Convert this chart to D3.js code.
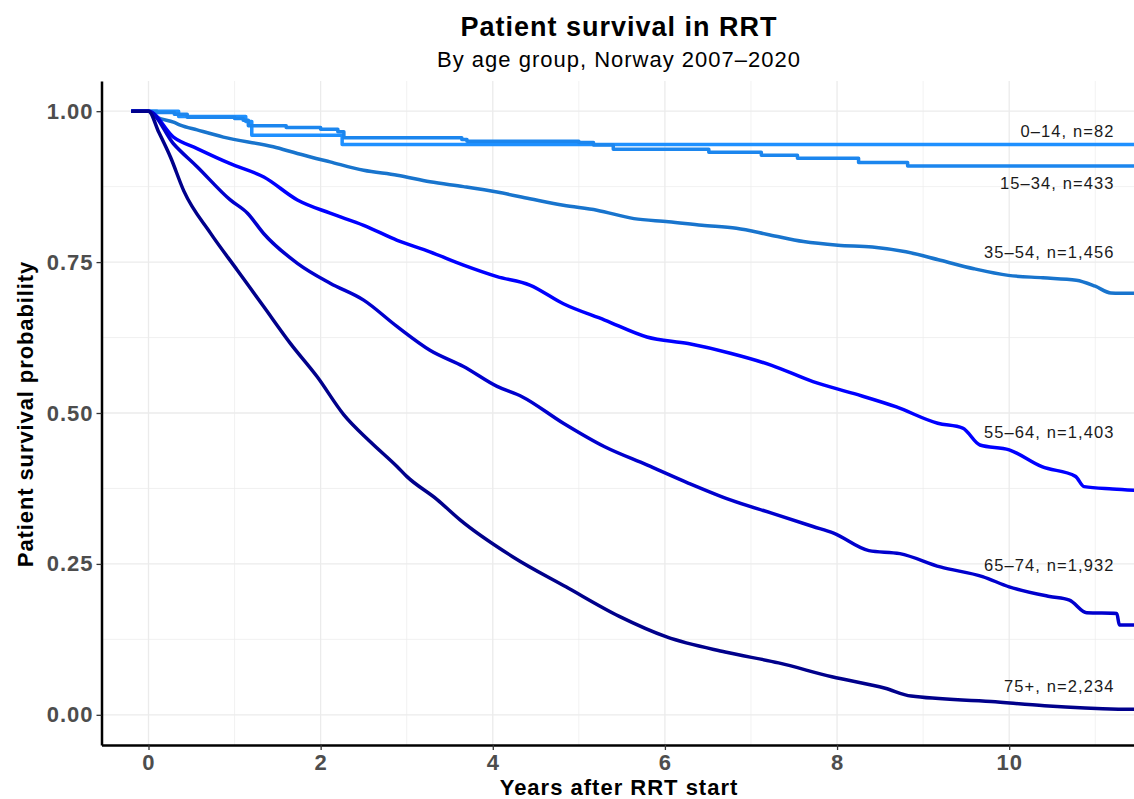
<!DOCTYPE html>
<html>
<head>
<meta charset="utf-8">
<script src="https://cdn.jsdelivr.net/npm/d3@7"></script>
<style>
  body { margin: 0; background: #fff; }
  svg text { font-family: "Liberation Sans", Arial, Helvetica, sans-serif; }
</style>
</head>
<body>
<div id="chart"></div>
<script>
// survival curves, [years, probability]
const groups = ["0\u201314", "15\u201334", "35\u201354", "55\u201364", "65\u201374", "75+"];
const counts = ["82", "433", "1,456", "1,403", "1,932", "2,234"];
const colors = ["#1E90FF", "#1C86EE", "#1874CD", "#0000FF", "#0000CD", "#00008B"];
const stepped = [true, true, false, false, false, false];
// where the group label sits (probability units)
const labelAt = [0.967, 0.880, 0.767, 0.468, 0.248, 0.048];

const surv0014 = [[-0.2,1],[0.35,0.991],[1.13,0.983],[1.2,0.96],[2.25,0.945],[11.6,0.945]];
const surv1534 = [[-0.2,1],[0.1,0.998],[0.3,0.995],[0.45,0.99],[1.0,0.988],[1.1,0.985],[1.16,0.976],
  [1.6,0.973],[2.0,0.970],[2.2,0.966],[2.27,0.956],[3.64,0.953],[3.7,0.950],[5.0,0.948],[5.17,0.944],
  [5.4,0.937],[6.51,0.932],[7.12,0.927],[7.54,0.922],[8.25,0.915],[8.82,0.909],[11.6,0.909]];
const surv3554 = [[-0.2,1],[0,1],[0.1,0.99],[0.29,0.982],[0.37,0.977],[0.565,0.969],[0.87,0.957],[1.45,0.941],
  [1.73,0.93],[2.11,0.916],[2.5,0.902],[2.89,0.894],[3.27,0.883],[3.66,0.875],[4.05,0.866],[4.43,0.855],
  [4.82,0.844],[5.21,0.836],[5.64,0.822],[6.04,0.817],[6.43,0.811],[6.83,0.806],[7.22,0.795],[7.61,0.784],
  [8.01,0.778],[8.41,0.775],[8.8,0.767],[9.2,0.753],[9.59,0.739],[9.99,0.728],[10.39,0.724],[10.78,0.72],
  [11.0,0.71],[11.18,0.699],[11.6,0.698]];
const surv5564 = [[-0.2,1],[0,1],[0.29,0.957],[0.565,0.938],[0.95,0.913],[1.34,0.891],[1.73,0.853],
  [2.11,0.831],[2.5,0.811],[2.89,0.786],[3.27,0.767],[3.66,0.745],[4.05,0.726],[4.43,0.712],[4.82,0.681],
  [5.3,0.654],[5.79,0.626],[6.27,0.615],[6.76,0.599],[7.24,0.579],[7.72,0.552],[8.2,0.532],[8.69,0.51],
  [9.17,0.483],[9.46,0.475],[9.66,0.447],[10.0,0.439],[10.38,0.411],[10.77,0.395],[10.87,0.378],
  [11.2,0.374],[11.6,0.371]];
const surv6574 = [[-0.2,1],[0,1],[0.29,0.946],[0.565,0.908],[0.95,0.853],[1.15,0.831],[1.34,0.797],
  [1.73,0.748],[2.11,0.715],[2.5,0.687],[2.89,0.643],[3.27,0.604],[3.66,0.577],[4.05,0.544],[4.34,0.527],
  [4.82,0.483],[5.3,0.444],[5.79,0.414],[6.27,0.384],[6.76,0.356],[7.24,0.334],[7.72,0.312],[7.96,0.301],
  [8.37,0.272],[8.73,0.267],[9.2,0.245],[9.69,0.229],[10.0,0.212],[10.47,0.196],[10.7,0.19],[10.9,0.169],
  [11.25,0.168],[11.28,0.149],[11.6,0.149]];
const surv75 = [[-0.2,1],[0,1],[0.12,0.965],[0.255,0.924],[0.41,0.868],[0.72,0.798],[1.03,0.737],[1.34,0.676],
  [1.65,0.615],[1.96,0.56],[2.27,0.497],[2.58,0.452],[2.89,0.411],[3.0,0.395],[3.35,0.357],[3.62,0.323],
  [4.23,0.262],[4.85,0.212],[5.47,0.163],[6.02,0.129],[6.70,0.104],[7.32,0.086],[7.94,0.063],[8.56,0.044],
  [8.86,0.031],[9.79,0.022],[10.41,0.015],[11.27,0.0094],[11.6,0.009]];
const curves = [surv0014, surv1534, surv3554, surv5564, surv6574, surv75];

const xTicks = [0, 2, 4, 6, 8, 10];
const yTicks = [0, 0.25, 0.5, 0.75, 1];

const width = 1134, height = 799;
const mLeft = 101.5, mRight = 1134, mTop = 81, mBottom = 745;

const svg = d3.select("#chart").append("svg").attr("width", width).attr("height", height);

const x = d3.scaleLinear().domain([-0.546, 11.45]).range([mLeft, mRight]);
const y = d3.scaleLinear().domain([-0.05, 1.05]).range([mBottom, mTop]);

svg.append("defs").append("clipPath").attr("id", "panel")
  .append("rect").attr("x", mLeft).attr("y", mTop).attr("width", mRight - mLeft).attr("height", mBottom - mTop);

// grid
const grid = svg.append("g");
const minorX = d3.range(1, 12, 2), minorY = [0.125, 0.375, 0.625, 0.875];
grid.selectAll(".mx").data(minorX).enter().append("line")
  .attr("x1", d => x(d)).attr("x2", d => x(d)).attr("y1", mTop).attr("y2", mBottom)
  .attr("stroke", "#EBEBEB").attr("stroke-width", 0.7);
grid.selectAll(".my").data(minorY).enter().append("line")
  .attr("x1", mLeft).attr("x2", mRight).attr("y1", d => y(d)).attr("y2", d => y(d))
  .attr("stroke", "#EBEBEB").attr("stroke-width", 0.7);
grid.selectAll(".gx").data(xTicks).enter().append("line")
  .attr("x1", d => x(d)).attr("x2", d => x(d)).attr("y1", mTop).attr("y2", mBottom)
  .attr("stroke", "#EBEBEB").attr("stroke-width", 1.3);
grid.selectAll(".gy").data(yTicks).enter().append("line")
  .attr("x1", mLeft).attr("x2", mRight).attr("y1", d => y(d)).attr("y2", d => y(d))
  .attr("stroke", "#EBEBEB").attr("stroke-width", 1.3);

// curves
const plot = svg.append("g").attr("clip-path", "url(#panel)");
curves.forEach((pts, i) => {
  const line = d3.line().x(d => x(d[0])).y(d => y(d[1]))
    .curve(stepped[i] ? d3.curveStepAfter : d3.curveMonotoneX);
  plot.append("path").datum(pts)
    .attr("d", line)
    .attr("fill", "none")
    .attr("stroke", colors[i])
    .attr("stroke-width", 3.5)
    .attr("stroke-linejoin", "round");
});

// group labels
svg.append("g").selectAll("text").data(groups).enter().append("text")
  .attr("x", mRight - 19.5)
  .attr("y", (d, i) => y(labelAt[i]))
  .attr("dy", "0.35em")
  .attr("text-anchor", "end")
  .attr("font-size", 16.5)
  .attr("letter-spacing", 1.1)
  .attr("fill", "#1a1a1a")
  .text((d, i) => d + ", n=" + counts[i]);

// axes
const xAxis = svg.append("g").attr("transform", `translate(0,${mBottom})`)
  .call(d3.axisBottom(x).tickValues(xTicks).tickSize(5).tickPadding(4).tickSizeOuter(0));
const yAxis = svg.append("g").attr("transform", `translate(${mLeft},0)`)
  .call(d3.axisLeft(y).tickValues(yTicks).tickFormat(d3.format(".2f")).tickSize(5).tickPadding(3).tickSizeOuter(0));

[xAxis, yAxis].forEach(a => {
  a.select(".domain").attr("stroke", "#000").attr("stroke-width", 2.5);
  a.selectAll(".tick line").attr("stroke", "#333").attr("stroke-width", 1.3);
  a.selectAll(".tick text")
    .attr("font-family", "Liberation Sans, Arial, sans-serif")
    .attr("font-size", 22).attr("font-weight", "bold")
    .attr("letter-spacing", 1).attr("fill", "#4D4D4D");
});
xAxis.selectAll(".tick text").attr("dy", "0.71em");

// titles
svg.append("text").attr("x", 619).attr("y", 36).attr("text-anchor", "middle")
  .attr("font-size", 27).attr("font-weight", "bold").attr("letter-spacing", 1)
  .text("Patient survival in RRT");
svg.append("text").attr("x", 619).attr("y", 67).attr("text-anchor", "middle")
  .attr("font-size", 22).attr("letter-spacing", 1)
  .text("By age group, Norway 2007\u20132020");
svg.append("text").attr("x", 619).attr("y", 795).attr("text-anchor", "middle")
  .attr("font-size", 22).attr("font-weight", "bold").attr("letter-spacing", 1)
  .text("Years after RRT start");
svg.append("text").attr("transform", "translate(33,414) rotate(-90)").attr("text-anchor", "middle")
  .attr("font-size", 22).attr("font-weight", "bold").attr("letter-spacing", 0.9)
  .text("Patient survival probability");
</script>
</body>
</html>
